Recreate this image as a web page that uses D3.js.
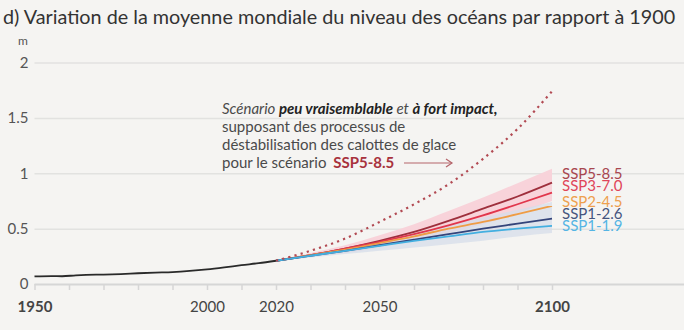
<!DOCTYPE html>
<html>
<head>
<meta charset="utf-8">
<script src="https://cdn.jsdelivr.net/npm/d3@7"></script>
<style>
  body { margin: 0; background: #f5f4f2; }
  svg { display: block; font-family: Lato, "Open Sans", sans-serif; }
</style>
</head>
<body>
<div id="chart"></div>
<script>
// Historical observations (m, relative to 1900)
const histYears = [1950, 1955, 1958, 1962, 1965, 1970, 1975, 1980, 1985, 1990, 1995, 2000, 2005, 2010, 2015, 2020];
const histValues = [0.068, 0.072, 0.070, 0.078, 0.082, 0.085, 0.090, 0.097, 0.103, 0.108, 0.118, 0.132, 0.150, 0.170, 0.188, 0.210];

// Projections, every 10 years from 2020 to 2100
const projYears = [2020, 2030, 2040, 2050, 2060, 2070, 2080, 2090, 2100];
const scenarios = ["SSP5-8.5", "SSP3-7.0", "SSP2-4.5", "SSP1-2.6", "SSP1-1.9"];
const ssp585 = [0.21, 0.26, 0.32, 0.39, 0.47, 0.57, 0.68, 0.79, 0.915];
const ssp370 = [0.21, 0.26, 0.32, 0.38, 0.45, 0.53, 0.62, 0.72, 0.825];
const ssp245 = [0.21, 0.26, 0.31, 0.37, 0.43, 0.50, 0.56, 0.63, 0.705];
const ssp126 = [0.21, 0.255, 0.30, 0.35, 0.40, 0.45, 0.50, 0.545, 0.59];
const ssp119 = [0.21, 0.255, 0.30, 0.345, 0.39, 0.43, 0.47, 0.50, 0.525];

// likely ranges shown as shaded bands
const ssp585Low = [0.21, 0.245, 0.28, 0.33, 0.39, 0.46, 0.54, 0.64, 0.75];
const ssp585High = [0.21, 0.28, 0.35, 0.44, 0.54, 0.66, 0.78, 0.91, 1.04];
const ssp126Low = [0.21, 0.24, 0.27, 0.30, 0.33, 0.36, 0.39, 0.43, 0.46];
const ssp126High = [0.21, 0.27, 0.33, 0.39, 0.46, 0.53, 0.60, 0.67, 0.74];

// low-likelihood, high-impact storyline (SSP5-8.5)
const lowLikelihood = [0.21, 0.30, 0.41, 0.56, 0.72, 0.90, 1.13, 1.40, 1.74];

const yTicks = [0, 0.5, 1, 1.5, 2];
const xTicks = [1950, 1960, 1970, 1980, 1990, 2000, 2010, 2020, 2030, 2040, 2050, 2060, 2070, 2080, 2090, 2100];
const xLabels = [1950, 2000, 2020, 2050, 2100];

const width = 684, height = 330;
const svg = d3.select("#chart").append("svg")
    .attr("width", width)
    .attr("height", height);

const x = d3.scaleLinear().domain([1950, 2100]).range([34.5, 552]);
const y = d3.scaleLinear().domain([0, 2]).range([284, 62.5]);

// Title
svg.append("text")
    .attr("x", 3)
    .attr("y", 24)
    .attr("fill", "#333")
    .attr("font-size", 19.8)
    .text("d) Variation de la moyenne mondiale du niveau des océans par rapport à 1900");

svg.append("text")
    .attr("x", 18)
    .attr("y", 45)
    .attr("fill", "#555")
    .attr("font-size", 12)
    .text("m");

// Gridlines + y labels
const yAxis = d3.axisLeft(y).tickValues(yTicks)
    .tickSize(-(width - 34.5)).tickPadding(6)
    .tickFormat(d => d);
svg.append("g")
    .attr("transform", "translate(34.5,0)")
    .call(yAxis)
    .call(g => g.select(".domain").remove())
    .call(g => g.selectAll(".tick line")
        .attr("stroke", d => d === 0 ? "#d6d6d6" : "#e2e2e0")
        .attr("stroke-width", d => d === 0 ? 2 : 1.5))
    .call(g => g.selectAll(".tick text")
        .attr("fill", "#555")
        .attr("font-size", 15)
        .attr("font-family", "Lato, sans-serif"));

// x ticks
const xAxis = d3.axisBottom(x).tickValues(xTicks).tickSize(6)
    .tickFormat(d => xLabels.includes(d) ? d : "").tickPadding(11);
svg.append("g")
    .attr("transform", "translate(0," + y(0) + ")")
    .call(xAxis)
    .call(g => g.select(".domain").remove())
    .call(g => g.selectAll(".tick line").attr("stroke", "#d6d6d6").attr("stroke-width", 1.5))
    .call(g => g.selectAll(".tick text")
        .attr("fill", "#444")
        .attr("font-size", 15)
        .attr("font-family", "Lato, sans-serif")
        .attr("font-weight", d => (d === 1950 || d === 2100) ? "bold" : "normal"));

// Bands
const area = (lo, hi) => d3.area()
    .x((d, i) => x(projYears[i]))
    .y0((d, i) => y(lo[i]))
    .y1((d, i) => y(hi[i]))
    .curve(d3.curveMonotoneX)(projYears);

svg.append("path").attr("d", area(ssp585Low, ssp585High)).attr("fill", "#f8d3da");
svg.append("path").attr("d", area(ssp126Low, ssp126High)).attr("fill", "#d6deea").attr("opacity", 0.75);

// Projection lines
const line = d3.line().curve(d3.curveMonotoneX);
const seriesData = [ssp585, ssp370, ssp245, ssp126, ssp119];
const colors = ["#9e2f3c", "#e1364c", "#ef9c45", "#34447a", "#43afe0"];
const labelColors = ["#a8464f", "#e0465a", "#eea04e", "#45557e", "#55b5e4"];

seriesData.forEach((vals, i) => {
    svg.append("path")
        .attr("d", line(projYears.map((yr, j) => [x(yr), y(vals[j])])))
        .attr("fill", "none")
        .attr("stroke", colors[i])
        .attr("stroke-width", 1.8);
});

// Historical
svg.append("path")
    .attr("d", d3.line().curve(d3.curveMonotoneX)(histYears.map((yr, i) => [x(yr), y(histValues[i])])))
    .attr("fill", "none")
    .attr("stroke", "#2a2a2a")
    .attr("stroke-width", 1.8);

// Low-likelihood dotted line
svg.append("path")
    .attr("d", line(projYears.map((yr, i) => [x(yr), y(lowLikelihood[i])])))
    .attr("fill", "none")
    .attr("stroke", "#b24a53")
    .attr("stroke-width", 2.2)
    .attr("stroke-dasharray", "2.2,4.2");

// Scenario labels
const labelY = [179, 191, 207, 219, 230.5];
scenarios.forEach((s, i) => {
    svg.append("text")
        .attr("x", 562)
        .attr("y", labelY[i])
        .attr("fill", labelColors[i])
        .attr("font-size", 15)
        .text(s);
});

// Annotation
const ann = svg.append("g").attr("fill", "#4a4a4a").attr("font-size", 15);
const t1 = ann.append("text").attr("x", 222).attr("y", 114);
t1.append("tspan").attr("font-style", "italic").text("Scénario ");
t1.append("tspan").attr("font-style", "italic").attr("font-weight", "bold").attr("fill", "#222").text("peu vraisemblable");
t1.append("tspan").attr("font-style", "italic").text(" et ");
t1.append("tspan").attr("font-style", "italic").attr("font-weight", "bold").attr("fill", "#222").text("à fort impact,");
ann.append("text").attr("x", 222).attr("y", 132).text("supposant des processus de");
ann.append("text").attr("x", 222).attr("y", 150).text("déstabilisation des calottes de glace");
const t4 = ann.append("text").attr("x", 222).attr("y", 168);
t4.append("tspan").text("pour le scénario ");
t4.append("tspan").attr("font-weight", "bold").attr("fill", "#a8323d").attr("dx", 3).text("SSP5-8.5");

svg.append("line")
    .attr("x1", 404).attr("x2", 452).attr("y1", 163).attr("y2", 163)
    .attr("stroke", "#b5646a").attr("stroke-width", 1.2);
svg.append("path")
    .attr("d", "M446,159 L452,163 L446,167")
    .attr("fill", "none").attr("stroke", "#b5646a").attr("stroke-width", 1.2);
</script>
</body>
</html>
